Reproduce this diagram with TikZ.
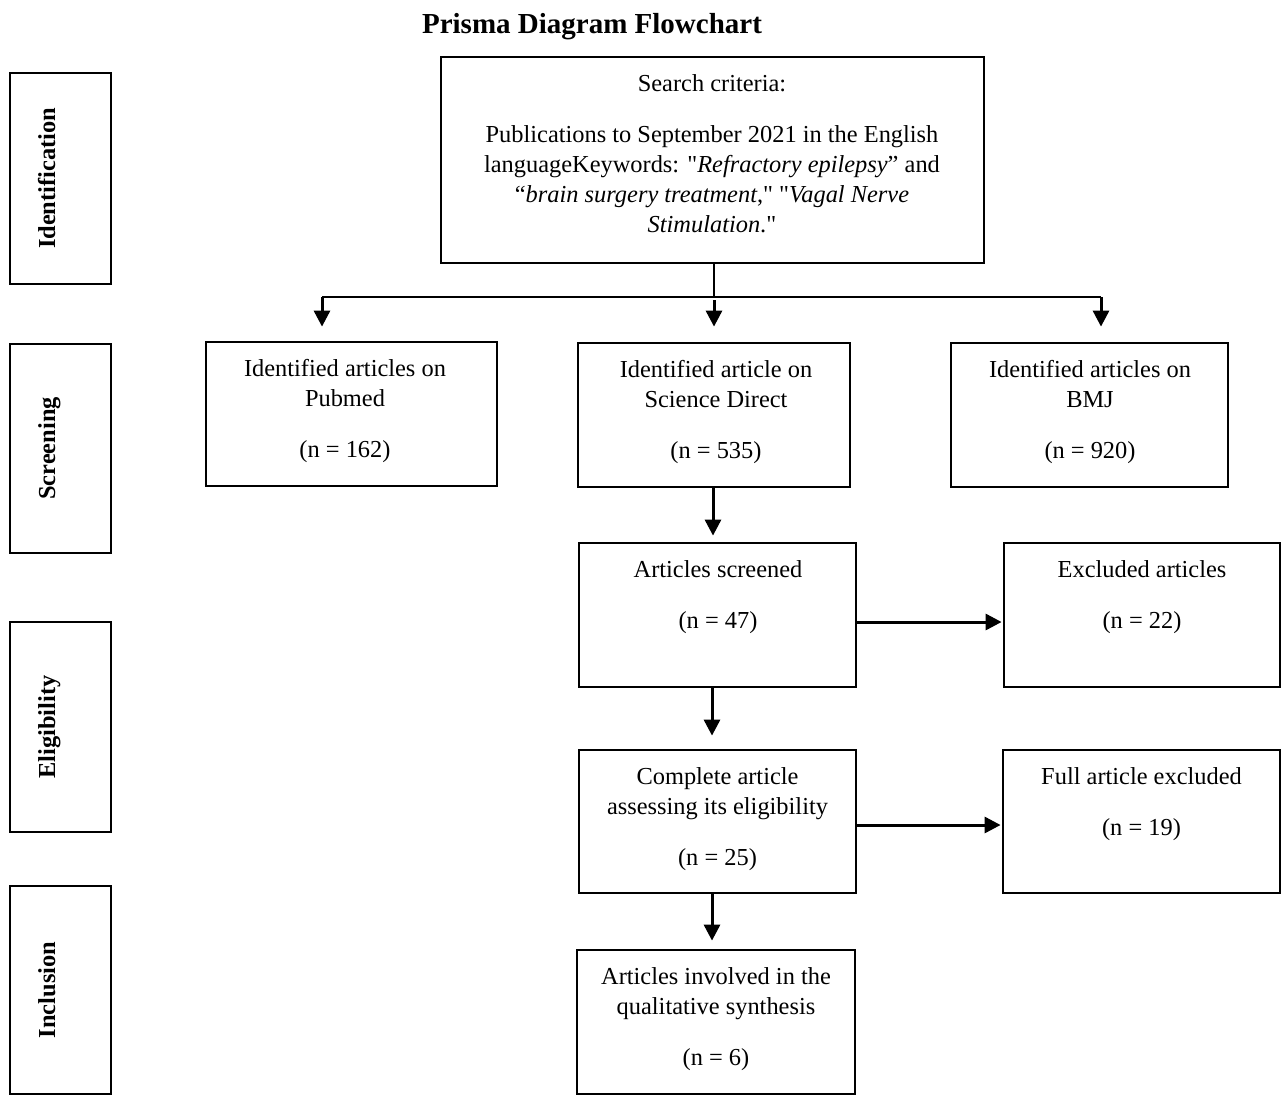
\documentclass[tikz,border=0pt]{standalone}
\usepackage{fontspec}
\setmainfont{Liberation Serif}
\usetikzlibrary{arrows.meta}
\begin{document}
\begin{tikzpicture}[x=1pt,y=-1pt,
 box/.style={draw,line width=2.8pt,inner sep=0pt},
 phase/.style={draw,line width=2.8pt,minimum width=101pt,inner sep=0pt},
 phasetxt/.style={anchor=base,rotate=90,inner sep=0pt,font=\bfseries\fontsize{24.4}{30}\selectfont},
 txt/.style={anchor=north,align=center,inner sep=0pt,font=\fontsize{24.4}{30}\selectfont},
 arr/.style={line width=3pt,-{Triangle[length=16pt,width=16pt]}},
 thinline/.style={line width=1.4pt}]
\useasboundingbox (0,0) rectangle (1286,1095);

% title
\node[anchor=base,inner sep=0pt,font=\bfseries\fontsize{29}{35}\selectfont] (title) at (592,33) {Prisma Diagram Flowchart};

% phase boxes
\node[phase,minimum height=211pt] (pid) at (60.5,178.5) {};
\node[phasetxt] (pidt) at (55,178.5) {Identification};
\node[phase,minimum height=209pt] (psc) at (60.5,448.5) {};
\node[phasetxt] (psct) at (55,448.5) {Screening};
\node[phase,minimum height=210pt] (pel) at (60.5,727) {};
\node[phasetxt] (pelt) at (55,727) {Eligibility};
\node[phase,minimum height=208pt] (pin) at (60.5,990) {};
\node[phasetxt] (pint) at (55,990) {Inclusion};

% boxes
\node[box,minimum width=543pt,minimum height=206pt] (search) at (712.5,160) {};
\node[txt] (searcht) at (712,74) {Search criteria:\\[21pt]
Publications to September 2021 in the English\\
languageKeywords: \textquotedbl\textit{Refractory epilepsy}” and\\
“\textit{brain surgery treatment},\textquotedbl{} \textquotedbl\textit{Vagal Nerve}\\
\textit{Stimulation}.\textquotedbl};

\node[box,minimum width=291pt,minimum height=144pt] (pub) at (351.5,414) {};
\node[txt] (pubt) at (345,359) {Identified articles on\\ Pubmed\\[21pt] (n = 162)};

\node[box,minimum width=272pt,minimum height=144pt] (sd) at (714,415) {};
\node[txt] (sdt) at (716,360) {Identified article on\\ Science Direct\\[21pt] (n = 535)};

\node[box,minimum width=277pt,minimum height=144pt] (bmj) at (1089.5,415) {};
\node[txt] (bmjt) at (1090,360) {Identified articles on\\ BMJ\\[21pt] (n = 920)};

\node[box,minimum width=277pt,minimum height=144pt] (scr) at (717.5,615) {};
\node[txt] (scrt) at (718,560) {Articles screened\\[21pt] (n = 47)};

\node[box,minimum width=276pt,minimum height=144pt] (exc) at (1142,615) {};
\node[txt] (exct) at (1142,560) {Excluded articles\\[21pt] (n = 22)};

\node[box,minimum width=277pt,minimum height=143pt] (comp) at (717.5,821.5) {};
\node[txt] (compt) at (717.5,767) {Complete article\\ assessing its eligibility\\[21pt] (n = 25)};

\node[box,minimum width=277pt,minimum height=143pt] (full) at (1141.5,821.5) {};
\node[txt] (fullt) at (1141.5,767) {Full article excluded\\[21pt] (n = 19)};

\node[box,minimum width=278pt,minimum height=144pt] (inc) at (716,1022) {};
\node[txt] (inct) at (716,967) {Articles involved in the\\ qualitative synthesis\\[21pt] (n = 6)};

% connectors
\coordinate (split) at (714,297);
\coordinate (aL) at (322,297);
\coordinate (aR) at (1101,297);
\draw[thinline] (split |- search.south) -- (split);
\draw[thinline] (aL) -- (aR);
\draw[arr,shorten >=14pt] (aL) -- (aL |- pub.north);
\draw[arr,shorten <=3pt,shorten >=15pt] (split) -- (split |- sd.north);
\draw[arr,shorten >=15pt] (aR) -- (aR |- bmj.north);

\draw[arr,shorten >=6pt] ([xshift=-1pt]sd.south) -- ([xshift=-1pt]sd.south |- scr.north);
\draw[arr,shorten >=1pt] ([yshift=-7pt]scr.east) -- ([yshift=-7pt]scr.east -| exc.west);
\draw[arr,shorten >=13pt] ([xshift=-5.5pt]scr.south) -- ([xshift=-5.5pt]scr.south |- comp.north);
\draw[arr,shorten >=1pt] ([yshift=-3.5pt]comp.east) -- ([yshift=-3.5pt]comp.east -| full.west);
\draw[arr,shorten >=8pt] ([xshift=-5.5pt]comp.south) -- ([xshift=-5.5pt]comp.south |- inc.north);
\end{tikzpicture}
\end{document}
